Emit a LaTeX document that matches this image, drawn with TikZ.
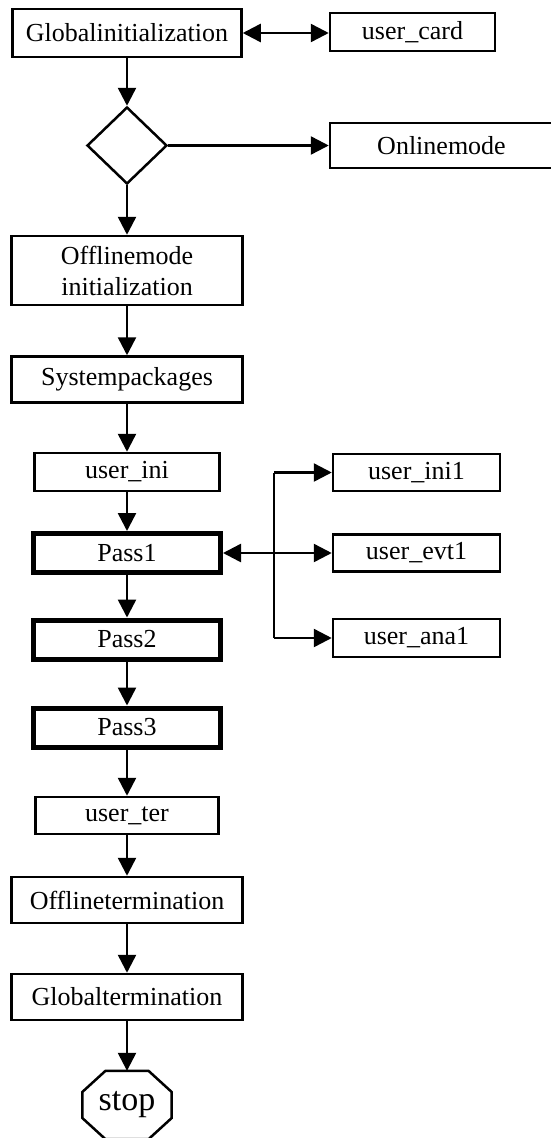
\documentclass[tikz,border=0pt]{standalone}
\usepackage{fontspec}
\setmainfont{Liberation Serif}
\usetikzlibrary{arrows.meta,shapes.geometric}
\begin{document}
\begin{tikzpicture}[x=1pt,y=-1pt,
  every node/.style={font=\fontsize{26}{31}\selectfont, inner sep=0pt},
  box/.style={draw, line width=2.5pt, rectangle, align=center},
  passbox/.style={draw, line width=5pt, rectangle, align=center},
  flow/.style={line width=2.5pt, -{Triangle[length=18pt,width=18pt]}},
  flowboth/.style={line width=2.5pt, {Triangle[length=18pt,width=18pt]}-{Triangle[length=18pt,width=18pt]}},
  plain/.style={line width=2.5pt}]
\path[use as bounding box] (0,0) rectangle (551,1138);

% main column
\node[box, minimum width=229pt, minimum height=48pt] (gi) at (127,33) {Globalinitialization};
\node[draw, diamond, line width=2.5pt, minimum width=80pt, minimum height=77pt] (dia) at (127,145.5) {};
\node[box, minimum width=231pt, minimum height=69pt] (oi) at (127,270.5) {Offlinemode\\initialization};
\node[box, minimum width=231pt, minimum height=46pt] (sp) at (127,379.5) {Systempackages};
\node[box, minimum width=185pt, minimum height=38pt] (ui) at (127,472) {user\_ini};
\node[passbox, minimum width=187pt, minimum height=39pt] (p1) at (127,553) {Pass1};
\node[passbox, minimum width=187pt, minimum height=39pt] (p2) at (127,639.5) {Pass2};
\node[passbox, minimum width=187pt, minimum height=39pt] (p3) at (127,727.5) {Pass3};
\node[box, minimum width=183pt, minimum height=37pt] (ut) at (127,815.5) {user\_ter};
\node[box, minimum width=231pt, minimum height=46pt] (ot) at (127,900) {Offlinetermination};
\node[box, minimum width=231pt, minimum height=46pt] (gt) at (127,997) {Globaltermination};
\node[minimum width=89pt, minimum height=68pt, font=\fontsize{34}{38}\selectfont] (stop) at (127,1105) {stop};
\draw[line width=2.5pt]
  ([xshift=-21.5pt]stop.north) -- ([xshift=21.5pt]stop.north)
  -- ([yshift=13pt]stop.east) -- ([yshift=-13pt]stop.east)
  -- ([xshift=21.5pt]stop.south) -- ([xshift=-21.5pt]stop.south)
  -- ([yshift=-13pt]stop.west) -- ([yshift=13pt]stop.west) -- cycle;

% side boxes
\node[box, minimum width=165pt, minimum height=38pt] (uc) at (412.5,32) {user\_card};
\node[box, minimum width=223pt, minimum height=45pt] (om) at (441.5,145.5) {Onlinemode};
\node[box, minimum width=167pt, minimum height=37pt] (ui1) at (416.5,472.5) {user\_ini1};
\node[box, minimum width=167pt, minimum height=37pt] (ue1) at (416.5,553) {user\_evt1};
\node[box, minimum width=167pt, minimum height=38pt] (ua1) at (416.5,638) {user\_ana1};
\coordinate (bx) at (274,0);

% connectors
\draw[flowboth] (gi.east) -- (uc.west |- gi.east);
\draw[flow] (gi.south) -- (dia.north);
\draw[flow] (dia.east) -- (om.west);
\draw[flow] (dia.south) -- (oi.north);
\draw[flow] (oi.south) -- (sp.north);
\draw[flow] (sp.south) -- (ui.north);
\draw[flow] (ui.south) -- (p1.north);
\draw[flow] (p1.south) -- (p2.north);
\draw[flow] (p2.south) -- (p3.north);
\draw[flow] (p3.south) -- (ut.north);
\draw[flow] (ut.south) -- (ot.north);
\draw[flow] (ot.south) -- (gt.north);
\draw[flow] (gt.south) -- (stop.north);

\draw[flowboth] (p1.east) -- (ue1.west);
\draw[plain] (bx |- ui1.west) -- (bx |- ua1.west);
\draw[flow] (bx |- ui1.west) -- (ui1.west);
\draw[flow] (bx |- ua1.west) -- (ua1.west);
\end{tikzpicture}
\end{document}
